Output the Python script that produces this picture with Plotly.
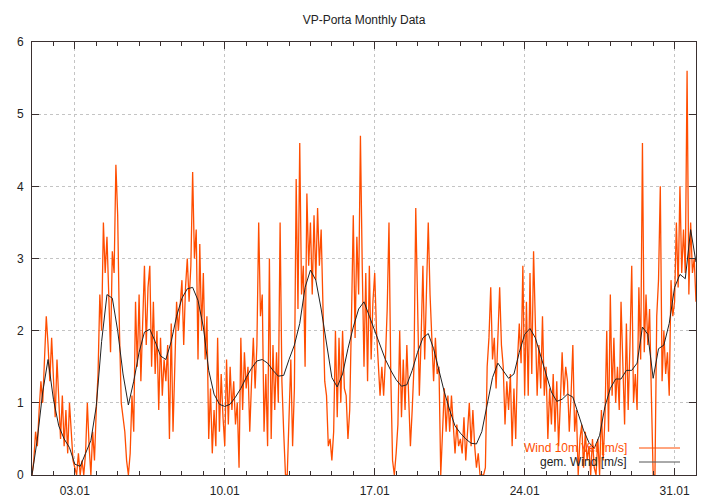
import pandas as pd
import plotly.graph_objects as go

# ---- data (2-hourly wind speed, m/s) ----
d01 = [0.0, 0.2, 0.6, 0.4, 0.9, 1.3, 1.0, 1.6, 2.2, 1.8, 1.3, 1.9]
d02 = [1.4, 0.8, 1.6, 1.0, 0.5, 1.1, 0.4, 0.9, 0.3, 1.0, 0.5, 0.2]
d03 = [0.1, 0.0, 0.3, 0.0, 0.2, 0.0, 0.3, 1.0, 0.4, 0.0, 0.6, 0.2]
d04 = [0.9, 1.4, 2.5, 2.0, 3.5, 2.8, 3.3, 2.6, 1.7, 3.1, 2.8, 4.3]
d05 = [3.6, 2.0, 1.0, 0.8, 0.6, 0.2, 0.0, 0.3, 1.1, 0.6, 2.4, 1.5]
d06 = [2.5, 1.3, 2.2, 2.9, 1.8, 2.6, 2.9, 1.5, 2.4, 1.4, 2.0, 0.9]
d07 = [1.9, 1.1, 1.6, 1.3, 1.8, 0.5, 2.1, 0.6, 1.5, 2.4, 2.0, 2.3]
d08 = [2.7, 1.8, 2.6, 3.0, 2.4, 2.9, 4.2, 3.0, 3.4, 1.6, 3.2, 2.0]
d09 = [2.8, 1.6, 2.2, 0.5, 1.2, 0.3, 0.9, 0.4, 1.9, 0.6, 1.4, 0.8]
d10 = [0.4, 1.6, 0.7, 1.5, 0.9, 1.3, 0.7, 1.0, 0.1, 1.9, 0.9, 1.7]
d11 = [1.2, 1.5, 0.6, 1.3, 1.9, 1.2, 1.8, 3.5, 2.2, 2.5, 0.6, 1.4]
d12 = [0.4, 3.0, 0.5, 1.8, 0.9, 1.7, 1.0, 3.5, 1.3, 0.6, 0.0, 0.0]
d13 = [0.9, 1.6, 0.4, 1.2, 4.1, 2.3, 4.6, 2.5, 2.9, 1.5, 3.9, 2.9]
d14 = [3.5, 2.5, 3.6, 2.7, 3.7, 2.9, 3.4, 2.2, 1.3, 1.1, 0.4, 0.5]
d15 = [0.2, 0.6, 2.0, 0.8, 1.9, 1.0, 2.0, 1.2, 1.1, 0.5, 0.9, 2.2]
d16 = [3.6, 1.9, 3.3, 2.5, 4.7, 2.9, 1.5, 2.8, 1.3, 2.9, 1.6, 2.4]
d17 = [2.8, 2.0, 1.5, 1.1, 1.5, 1.1, 1.6, 2.3, 3.5, 1.4, 0.2, 0.0]
d18 = [0.3, 0.7, 2.0, 0.8, 1.6, 0.9, 1.8, 1.0, 0.4, 0.9, 1.5, 3.7]
d19 = [2.2, 1.1, 1.9, 2.9, 1.6, 2.4, 3.5, 2.5, 2.0, 1.3, 1.9, 1.4]
d20 = [1.5, 0.0, 0.6, 1.2, 0.6, 1.1, 0.6, 1.1, 0.7, 0.3, 0.7, 0.4]
d21 = [0.5, 0.3, 0.8, 0.2, 0.6, 1.0, 0.4, 0.9, 0.4, 0.1, 0.3, 0.0]
d22 = [0.0, 0.0, 0.1, 1.5, 1.9, 2.6, 1.6, 1.9, 1.2, 1.8, 2.6, 1.8]
d23 = [1.5, 0.7, 1.3, 0.9, 1.4, 0.4, 1.2, 0.5, 1.6, 2.1, 1.55, 2.9]
d24 = [1.1, 2.4, 1.1, 2.8, 1.4, 3.1, 2.0, 1.1, 1.8, 1.2, 2.2, 1.1]
d25 = [1.5, 0.5, 1.2, 0.7, 1.4, 0.6, 1.3, 0.4, 1.0, 1.7, 1.1, 1.5]
d26 = [1.3, 0.6, 1.1, 1.8, 0.6, 0.9, 0.0, 0.5, 0.7, 0.1, 0.6, 0.2]
d27 = [0.4, 0.0, 0.5, 0.1, 0.0, 0.5, 0.0, 0.9, 0.2, 0.8, 2.0, 0.6]
d28 = [2.5, 1.1, 1.9, 1.0, 1.5, 0.9, 2.4, 1.5, 0.7, 2.1, 0.9, 1.8]
d29 = [2.9, 1.0, 1.4, 0.9, 2.6, 1.6, 4.6, 1.7, 2.5, 1.8, 2.3, 1.1]
d30 = [0.0, 0.0, 2.2, 2.7, 4.0, 1.3, 2.0, 1.4, 1.7, 1.1, 2.7, 2.2]
d31 = [2.4, 3.5, 2.6, 4.0, 2.8, 3.4, 2.8, 5.6, 2.5, 3.5, 2.8, 3.0]
last_value = [2.4]

wind_10m = (d01 + d02 + d03 + d04 + d05 + d06 + d07 + d08 + d09 + d10 + d11 + d12
            + d13 + d14 + d15 + d16 + d17 + d18 + d19 + d20 + d21 + d22 + d23 + d24
            + d25 + d26 + d27 + d28 + d29 + d30 + d31 + last_value)

# ---- averaged wind (6-hourly, m/s) ----
wind_avg = [
    0.0, 0.5, 1.15, 1.6,
    1.05, 0.68, 0.5, 0.38,
    0.15, 0.12, 0.3, 0.48,
    0.95, 1.85, 2.5, 2.45,
    2.0, 1.4, 0.97, 1.3,
    1.7, 1.98, 2.02, 1.85,
    1.65, 1.6, 1.85, 2.2,
    2.45, 2.58, 2.6, 2.42,
    2.05, 1.45, 1.12, 0.98,
    0.95, 0.98, 1.08, 1.2,
    1.35, 1.48, 1.58, 1.6,
    1.55, 1.45, 1.37, 1.38,
    1.6, 1.8, 2.1, 2.6,
    2.84, 2.7, 2.3, 1.85,
    1.35, 1.22, 1.4, 1.75,
    2.05, 2.3, 2.4, 2.2,
    2.0, 1.8, 1.6, 1.45,
    1.32, 1.23, 1.25, 1.45,
    1.7, 1.9, 1.96, 1.75,
    1.45, 1.15, 0.9, 0.68,
    0.58, 0.5, 0.44, 0.43,
    0.6, 0.95, 1.35, 1.55,
    1.45, 1.34, 1.4, 1.7,
    1.95, 2.03, 1.9, 1.64,
    1.4, 1.15, 1.02, 1.05,
    1.12, 1.08, 0.85, 0.62,
    0.45, 0.37, 0.55, 0.95,
    1.2, 1.33, 1.33, 1.45,
    1.45, 1.55, 2.05, 1.95,
    1.34, 1.75, 1.8, 2.1,
    2.6, 2.78, 2.72, 3.4,
    2.95,
]

major_ticks = ["2010-01-03", "2010-01-10", "2010-01-17", "2010-01-24", "2010-01-31"]
x_range = ["2010-01-01 00:00", "2010-02-01 00:00"]

t_wind = pd.date_range("2010-01-01 00:00", periods=len(wind_10m), freq="2h")
t_avg = pd.date_range("2010-01-01 00:00", periods=len(wind_avg), freq="6h")

ORANGE = "#ff4d00"
AXIS = "#3a3030"
GRID = "#c4c4c4"
FONT = "Liberation Sans, Arial, sans-serif"

fig = go.Figure()
fig.add_trace(go.Scatter(x=t_wind, y=wind_10m, mode="lines",
                         line=dict(color=ORANGE, width=1.3),
                         name="Wind 10m Vel [m/s]"))
fig.add_trace(go.Scatter(x=t_avg, y=wind_avg, mode="lines",
                         line=dict(color="#222222", width=1),
                         name="gem. Wind [m/s]"))

L, R, T, B = 32, 24, 42, 29
W, H = 720, 504
pw, ph = W - L - R, H - T - B

def px(x):
    return (x - L) / pw

def py(y):
    return (H - B - y) / ph

fig.update_layout(
    width=W, height=H,
    margin=dict(l=L, r=R, t=T, b=B, autoexpand=False),
    paper_bgcolor="white", plot_bgcolor="white",
    showlegend=False,
    font=dict(family=FONT, size=12, color="#222222"),
    title=dict(text="VP-Porta Monthly Data", x=px(364), xref="paper", xanchor="center",
               y=1 - 20 / H, yref="container", yanchor="middle",
               font=dict(family=FONT, size=12, color="#222222")),
    xaxis=dict(
        type="date", range=x_range, automargin=False,
        tickvals=major_ticks, tickformat="%d.%m",
        ticks="inside", ticklen=7, tickcolor=AXIS, tickwidth=1,
        ticklabelstandoff=5,
        showline=True, linecolor=AXIS, linewidth=1, mirror="ticks",
        showgrid=True, gridcolor=GRID, griddash="dot", gridwidth=1,
        zeroline=False,
        tickfont=dict(family=FONT, size=12, color="#222222"),
        minor=dict(dtick=86400000, tick0="2010-01-01", ticks="inside",
                   ticklen=4, tickcolor=AXIS, showgrid=False),
    ),
    yaxis=dict(
        range=[0, 6], dtick=1, tick0=0, automargin=False,
        ticks="inside", ticklen=7, tickcolor=AXIS, tickwidth=1,
        ticklabelstandoff=5,
        showline=True, linecolor=AXIS, linewidth=1, mirror="ticks",
        showgrid=True, gridcolor=GRID, griddash="dot", gridwidth=1,
        zeroline=False,
        tickfont=dict(family=FONT, size=12, color="#222222"),
    ),
)

# gnuplot-style key: text right-aligned, sample line to its right
fig.add_annotation(xref="paper", yref="paper", x=px(629), y=py(448),
                   xanchor="right", yanchor="middle", showarrow=False,
                   text="Wind 10m Vel [m/s]",
                   font=dict(family=FONT, size=12, color=ORANGE))
fig.add_annotation(xref="paper", yref="paper", x=px(629), y=py(462),
                   xanchor="right", yanchor="middle", showarrow=False,
                   text="gem. Wind [m/s]",
                   font=dict(family=FONT, size=12, color="#222222"))
fig.add_shape(type="line", xref="paper", yref="paper",
              x0=px(639), x1=px(680), y0=py(448), y1=py(448),
              line=dict(color=ORANGE, width=1))
fig.add_shape(type="line", xref="paper", yref="paper",
              x0=px(639), x1=px(680), y0=py(462), y1=py(462),
              line=dict(color="#555555", width=1))

fig.write_html("out.html")
